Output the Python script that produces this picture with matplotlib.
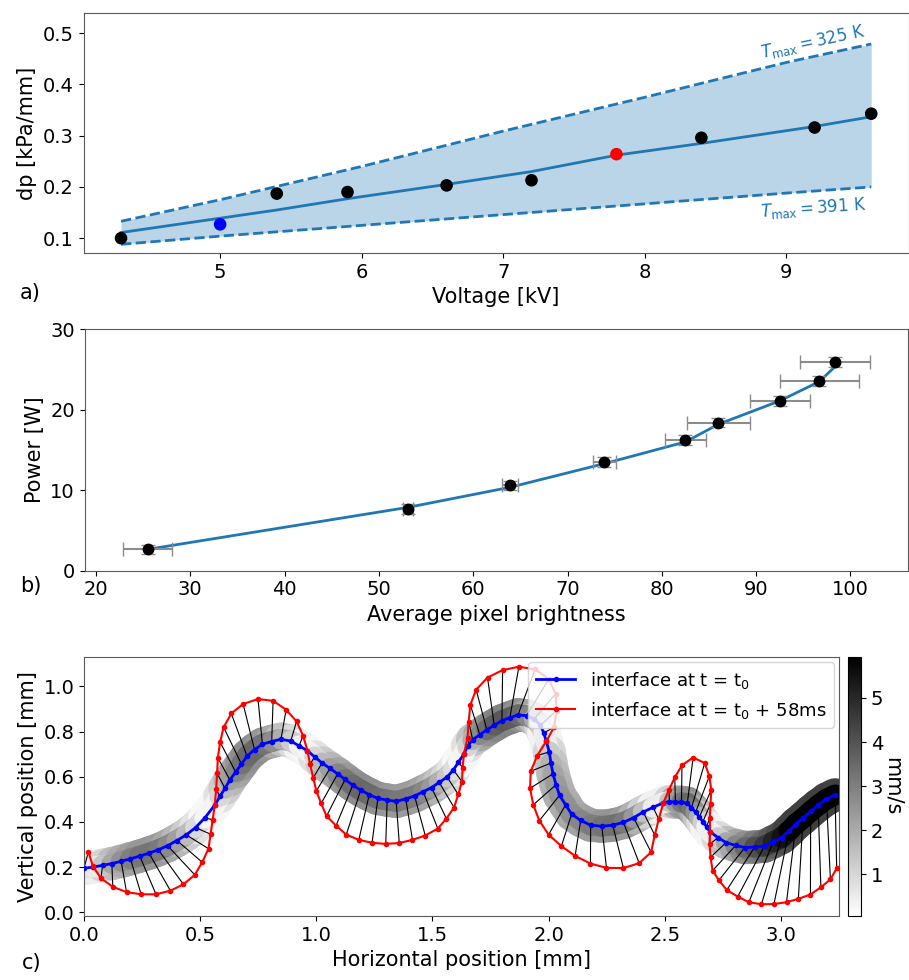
import matplotlib.pyplot as plt
import numpy as np
from matplotlib.collections import LineCollection
from matplotlib import colors, cm

# ---- panel a: pressure gradient vs voltage
volt = [4.3, 5.0, 5.4, 5.9, 6.6, 7.2, 7.8, 8.4, 9.2, 9.6]
dp = [0.100, 0.127, 0.187, 0.190, 0.203, 0.213, 0.264, 0.296, 0.316, 0.343]
dp_col = ['k', 'b', 'k', 'k', 'k', 'k', 'r', 'k', 'k', 'k']
dp_fit = [0.111, 0.139, 0.155, 0.177, 0.205, 0.230, 0.262, 0.285, 0.318, 0.337]
volt_band = [4.3, 5.0, 6.0, 7.0, 8.0, 9.0, 9.6]
dp_325 = [0.133, 0.175, 0.240, 0.309, 0.375, 0.443, 0.479]
dp_391 = [0.088, 0.104, 0.125, 0.146, 0.167, 0.188, 0.200]

# ---- panel b: power vs brightness
bright = [25.5, 53.1, 63.9, 73.9, 82.5, 86.0, 92.5, 96.7, 98.4]
power = [2.65, 7.67, 10.6, 13.5, 16.2, 18.4, 21.1, 23.6, 25.9]
bright_err = [2.6, 0.5, 0.9, 1.25, 2.2, 3.35, 3.2, 4.2, 3.7]
power_err = [0.6, 0.6, 0.6, 0.6, 0.6, 0.6, 0.6, 0.6, 0.6]
power_fit = [2.65, 7.87, 10.36, 13.3, 16.0, 18.2, 21.1, 23.5, 25.4]

# ---- panel c: interface at t0 (blue) and t0 + 58 ms (red), point i <-> point i
blue_x = [0.00, 0.04, 0.08, 0.12, 0.16, 0.20, 0.24, 0.28, 0.32, 0.36, 0.40, 0.44, 0.48, 0.52, 0.563,
          0.585, 0.607, 0.628, 0.653, 0.678, 0.702, 0.734, 0.768, 0.808, 0.848, 0.890, 0.926, 0.962,
          0.993, 1.025, 1.059, 1.092, 1.124, 1.157, 1.191, 1.228, 1.265, 1.305, 1.344, 1.385, 1.423,
          1.460, 1.496, 1.529, 1.563, 1.590, 1.612, 1.635,
          1.651, 1.673, 1.704, 1.734, 1.766, 1.799, 1.833, 1.868, 1.905, 1.938, 1.965, 1.979, 1.990,
          2.003, 2.010, 2.019, 2.032, 2.047, 2.073, 2.099, 2.138, 2.181, 2.229, 2.276, 2.322, 2.366,
          2.407, 2.450, 2.494,
          2.520, 2.546, 2.572, 2.597, 2.615, 2.633, 2.649, 2.664, 2.680, 2.695,
          2.729, 2.764, 2.805, 2.845, 2.887, 2.929, 2.966, 3.003, 3.035, 3.065, 3.095, 3.128, 3.160,
          3.196, 3.233]
blue_y = [0.195, 0.201, 0.208, 0.216, 0.226, 0.237, 0.249, 0.262, 0.277, 0.295, 0.318, 0.343, 0.375, 0.418, 0.475,
          0.513, 0.549, 0.586, 0.621, 0.656, 0.691, 0.720, 0.744, 0.756, 0.766, 0.758, 0.737, 0.715,
          0.688, 0.661, 0.637, 0.613, 0.588, 0.563, 0.541, 0.521, 0.504, 0.497, 0.491, 0.502, 0.515,
          0.534, 0.552, 0.575, 0.599, 0.630, 0.665, 0.700,
          0.735, 0.764, 0.786, 0.808, 0.828, 0.848, 0.861, 0.874, 0.870, 0.856, 0.828, 0.794, 0.757,
          0.710, 0.661, 0.613, 0.565, 0.518, 0.476, 0.435, 0.407, 0.386, 0.381, 0.386, 0.398, 0.419,
          0.444, 0.465, 0.485,
          0.490, 0.488, 0.487, 0.483, 0.463, 0.444, 0.422, 0.401, 0.379, 0.357,
          0.331, 0.309, 0.296, 0.287, 0.289, 0.293, 0.312, 0.331, 0.361, 0.392, 0.417, 0.447, 0.474,
          0.501, 0.520]
red_x = [0.019, 0.038, 0.073, 0.124, 0.183, 0.246, 0.310, 0.372, 0.428, 0.477, 0.509, 0.536, 0.545, 0.554, 0.563,
         0.569, 0.573, 0.576, 0.586, 0.601, 0.634, 0.685, 0.749, 0.814, 0.870, 0.915, 0.943, 0.962,
         0.973, 0.987, 1.000, 1.021, 1.044, 1.085, 1.129, 1.183, 1.240, 1.299, 1.357, 1.414, 1.469,
         1.523, 1.560, 1.593, 1.611, 1.627, 1.630, 1.635,
         1.651, 1.656, 1.663, 1.688, 1.737, 1.802, 1.872, 1.942, 2.001, 2.030, 2.035, 2.023, 1.990,
         1.951, 1.923, 1.920, 1.934, 1.960, 2.000, 2.055, 2.114, 2.180, 2.249, 2.322, 2.390, 2.441,
         2.457, 2.474, 2.494,
         2.518, 2.543, 2.574, 2.622, 2.672, 2.692, 2.700, 2.697, 2.694, 2.695,
         2.693, 2.697, 2.706, 2.733, 2.767, 2.814, 2.862, 2.916, 2.970, 3.024, 3.075, 3.127, 3.172,
         3.213, 3.240]
red_y = [0.269, 0.205, 0.151, 0.113, 0.090, 0.080, 0.080, 0.096, 0.124, 0.166, 0.222, 0.282, 0.346, 0.410, 0.475,
         0.545, 0.615, 0.684, 0.753, 0.819, 0.880, 0.922, 0.944, 0.936, 0.897, 0.845, 0.782, 0.715,
         0.656, 0.596, 0.537, 0.482, 0.426, 0.384, 0.344, 0.321, 0.308, 0.303, 0.307, 0.321, 0.340,
         0.371, 0.415, 0.464, 0.522, 0.579, 0.640, 0.700,
         0.771, 0.844, 0.918, 0.985, 1.039, 1.072, 1.087, 1.075, 1.033, 0.967, 0.893, 0.819, 0.757,
         0.694, 0.624, 0.549, 0.476, 0.406, 0.344, 0.293, 0.250, 0.216, 0.197, 0.196, 0.218, 0.266,
         0.342, 0.412, 0.485,
         0.542, 0.597, 0.651, 0.685, 0.661, 0.603, 0.542, 0.481, 0.419, 0.357,
         0.301, 0.244, 0.185, 0.142, 0.099, 0.070, 0.045, 0.036, 0.037, 0.045, 0.060, 0.079, 0.111,
         0.146, 0.195]
dt = 0.058  # s
speed_lim = [0.05, 5.93]

TICK = 14
LAB = 15
C0 = '#1f77b4'

fig = plt.figure(figsize=(9.09, 9.8), dpi=100)
ax1 = fig.add_axes([0.0919, 0.7418, 0.9078, 0.2452])
ax2 = fig.add_axes([0.0931, 0.4177, 0.9058, 0.2463])
ax3 = fig.add_axes([0.0924, 0.0653, 0.8306, 0.2643])
cax = fig.add_axes([0.9329, 0.0653, 0.0143, 0.2643])

# a)
ax1.fill_between(volt_band, dp_391, dp_325, color=C0, alpha=0.3, lw=0)
ax1.plot(volt_band, dp_325, '--', color=C0, lw=2)
ax1.plot(volt_band, dp_391, '--', color=C0, lw=2)
ax1.plot(volt, dp_fit, '-', color=C0, lw=2)
ax1.scatter(volt, dp, c=dp_col, s=65, zorder=5)
ax1.text(9.19, 0.483, r'$T_{\mathrm{max}} = 325$ K', color=C0, fontsize=12,
         rotation=12, ha='center', va='center')
ax1.text(9.19, 0.159, r'$T_{\mathrm{max}} = 391$ K', color=C0, fontsize=12,
         rotation=4, ha='center', va='center')
ax1.set_xlim(4.035, 9.865)
ax1.set_ylim(0.071, 0.54)
ax1.set_xticks([5, 6, 7, 8, 9])
ax1.set_yticks([0.1, 0.2, 0.3, 0.4, 0.5])
ax1.set_xlabel('Voltage [kV]', fontsize=LAB)
ax1.set_ylabel('dp [kPa/mm]', fontsize=LAB)

# b)
ax2.plot(bright, power_fit, '-', color=C0, lw=2)
ax2.errorbar(bright, power, xerr=bright_err, yerr=power_err, fmt='o', color='k', ms=7.5,
             ecolor='#8c8c8c', elinewidth=1.5, capsize=5, zorder=5)
ax2.set_xlim(18.8, 106.1)
ax2.set_ylim(0, 30)
ax2.set_xticks(range(20, 101, 10))
ax2.set_yticks([0, 10, 20, 30])
ax2.set_xlabel('Average pixel brightness', fontsize=LAB)
ax2.set_ylabel('Power [W]', fontsize=LAB)

# c)
bx, by = np.array(blue_x), np.array(blue_y)
rx, ry = np.array(red_x), np.array(red_y)
speed = np.hypot(rx - bx, ry - by) / dt
norm = colors.Normalize(*speed_lim)
cmap = plt.get_cmap('gray_r')
pts = np.column_stack([bx, by]).reshape(-1, 1, 2)
segs = np.concatenate([pts[:-1], pts[1:]], axis=1)
seg_speed = 0.5 * (speed[:-1] + speed[1:])
rgb = cmap(norm(seg_speed))
soft = rgb.copy()
soft[:, :3] = 0.75 * rgb[:, :3] + 0.25
ax3.add_collection(LineCollection(segs, colors=soft, linewidths=24, capstyle='round', zorder=1))
ax3.add_collection(LineCollection(segs, colors=rgb, linewidths=15, capstyle='round', zorder=1.5))
links = [[(bx[i], by[i]), (rx[i], ry[i])] for i in range(len(bx))]
ax3.add_collection(LineCollection(links, colors='k', linewidths=0.8, zorder=2))
ax3.plot(bx, by, '.-', color='blue', lw=2, ms=6, zorder=3, label=r'interface at t = t$_0$')
ax3.plot(rx, ry, '.-', color='red', lw=1.5, ms=6, zorder=4, label=r'interface at t = t$_0$ + 58ms')
ax3.set_xlim(0, 3.25)
ax3.set_ylim(-0.016, 1.13)
ax3.set_xticks([0, 0.5, 1.0, 1.5, 2.0, 2.5, 3.0])
ax3.set_yticks([0, 0.2, 0.4, 0.6, 0.8, 1.0])
ax3.set_xlabel('Horizontal position [mm]', fontsize=LAB)
ax3.set_ylabel('Vertical position [mm]', fontsize=LAB)
ax3.legend(loc='upper right', fontsize=13, handlelength=2.2, borderaxespad=0.3)

sm = cm.ScalarMappable(norm=norm, cmap=cmap)
cb = fig.colorbar(sm, cax=cax)
cb.set_ticks([1, 2, 3, 4, 5])
cb.ax.tick_params(labelsize=TICK)
cb.set_label('mm/s', rotation=270, fontsize=LAB, labelpad=14)

for ax in (ax1, ax2, ax3):
    ax.tick_params(labelsize=TICK)
    for s in ax.spines.values():
        s.set_color('0.35')

fig.text(0.022, 1 - 293 / 980, 'a)', fontsize=LAB, va='center')
fig.text(0.022, 1 - 586 / 980, 'b)', fontsize=LAB, va='center')
fig.text(0.024, 1 - 963 / 980, 'c)', fontsize=LAB, va='center')

fig.savefig('out.png', dpi=100)
